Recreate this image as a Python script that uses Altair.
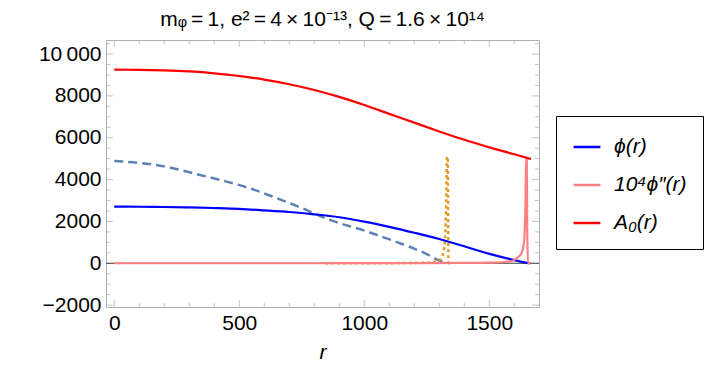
import altair as alt
import pandas as pd

# ---- data ----
phi_r = [0, 100, 200, 300, 400, 500, 600, 700, 800, 900, 1000, 1100, 1200, 1300, 1400, 1500, 1543, 1600, 1630, 1650, 1665]
phi_v = [2705, 2700, 2690, 2670, 2640, 2600, 2530, 2450, 2340, 2200, 1990, 1740, 1460, 1160, 810, 450, 315, 150, 70, 20, 0]

dphi_r = [0, 500, 1000, 1400, 1500, 1560, 1590, 1609, 1629, 1638, 1642, 1645, 1647, 1650, 1652, 1655, 1665]
dphi_v = [0, 0, 5, 15, 30, 60, 110, 240, 480, 900, 1600, 3000, 4983, 4983, 1500, 0, 0]

a0_r = [0, 100, 200, 300, 400, 500, 600, 700, 800, 900, 1000, 1100, 1200, 1300, 1400, 1500, 1600, 1667]
a0_v = [9250, 9245, 9220, 9166, 9079, 8951, 8778, 8556, 8281, 7950, 7560, 7140, 6720, 6300, 5900, 5540, 5210, 4983]

dash_r = [0, 75, 200, 343, 450, 543, 650, 743, 863, 1000, 1143, 1200, 1250, 1290, 1315, 1330]
dash_v = [4888, 4825, 4630, 4220, 3900, 3580, 3110, 2675, 2070, 1560, 955, 700, 440, 190, 60, 0]

dot_r = [843, 1100, 1250, 1290, 1305, 1315, 1322, 1327, 1331, 1334, 1337, 1346]
dot_v = [0, 5, 30, 90, 200, 450, 1000, 2500, 5080, 5080, 0, 0]

names = ["ϕ(r)", "10⁴ϕ″(r)", "A₀(r)"]
colors = ["#0000ff", "#ff8080", "#ff0000"]

x_major = [0, 500, 1000, 1500]
x_minor = [100, 200, 300, 400, 600, 700, 800, 900, 1100, 1200, 1300, 1400, 1600]
y_major = [-2000, 0, 2000, 4000, 6000, 8000, 10000]
y_minor = [-1500, -1000, -500, 500, 1000, 1500, 2500, 3000, 3500, 4500, 5000, 5500,
           6500, 7000, 7500, 8500, 9000, 9500, 10500]

title_text = "mᵩ\u2009=\u20091, e²\u2009=\u20094\u2009×\u200910⁻¹³, Q\u2009=\u20091.6\u2009×\u200910¹⁴"

XDOM = [-33, 1699]
YDOM = [-2090, 10670]
W, H = 433, 267
FONT = "Liberation Sans"

main = pd.concat([
    pd.DataFrame({"r": phi_r, "v": phi_v, "s": names[0], "o": 0}),
    pd.DataFrame({"r": dphi_r, "v": dphi_v, "s": names[1], "o": 1}),
    pd.DataFrame({"r": a0_r, "v": a0_v, "s": names[2], "o": 2}),
])
dash = pd.DataFrame({"r": dash_r, "v": dash_v})
dot = pd.DataFrame({"r": dot_r, "v": dot_v})

xs = alt.Scale(domain=XDOM, nice=False, zero=False)
ys = alt.Scale(domain=YDOM, nice=False, zero=False)

base_x = alt.X("r:Q", scale=xs, axis=alt.Axis(values=x_major, format="d", tickSize=0, labelFontSize=21,
                                              labelPadding=5, title="r", titleFontSize=21,
                                              titleFontStyle="italic", titleFontWeight="normal",
                                              titlePadding=8, domain=False, grid=False,
                                              labelFont=FONT, titleFont=FONT, labelColor="black"))
base_y = alt.Y("v:Q", scale=ys, axis=alt.Axis(values=y_major, format="d", tickSize=0, labelFontSize=21,
                                              labelPadding=5, title=None, domain=False, grid=False,
                                              labelFont=FONT, labelColor="black",
                                              labelExpr="datum.value == 10000 ? '10\u2009000' : datum.label"))

zero = alt.Chart(pd.DataFrame({"v": [0]})).mark_rule(color="#444444", strokeWidth=1).encode(
    y=alt.Y("v:Q", scale=ys), x=alt.value(0), x2=alt.value(W))

dashed = alt.Chart(dash).mark_line(color="#5e81b5", strokeWidth=2.5, strokeDash=[9, 5],
                                   interpolate="monotone", clip=True).encode(
    x=alt.X("r:Q", scale=xs), y=alt.Y("v:Q", scale=ys))
dotted = alt.Chart(dot).mark_line(color="#e19c24", strokeWidth=2.5, strokeDash=[3, 3],
                                  interpolate="monotone", clip=True).encode(
    x=alt.X("r:Q", scale=xs), y=alt.Y("v:Q", scale=ys))

lines = alt.Chart(main).mark_line(strokeWidth=2.2, interpolate="monotone", clip=True).encode(
    x=base_x, y=base_y,
    color=alt.Color("s:N", scale=alt.Scale(domain=names, range=colors),
                    legend=alt.Legend(title=None, orient="none", legendX=450, legendY=76,
                                      symbolType="stroke", symbolStrokeWidth=2.5, symbolSize=720,
                                      labelFontSize=21, labelFont=FONT, labelColor="black",
                                      labelFontStyle="italic",
                                      rowPadding=13, padding=16, labelOffset=12,
                                      strokeColor="black")),
    order="o:Q")

# inward frame ticks
tick_layers = []
for vals, ln in [(x_major, 7), (x_minor, 4)]:
    d = pd.DataFrame({"t": vals})
    for yy in [H - ln / 2, ln / 2]:
        tick_layers.append(alt.Chart(d).mark_tick(color="#aaaaaa", thickness=1, size=ln,
                                                  orient="vertical").encode(
            x=alt.X("t:Q", scale=xs), y=alt.value(yy)))
for vals, ln in [(y_major, 7), (y_minor, 4)]:
    d = pd.DataFrame({"t": vals})
    for xx in [ln / 2, W - ln / 2]:
        tick_layers.append(alt.Chart(d).mark_tick(color="#aaaaaa", thickness=1, size=ln,
                                                  orient="horizontal").encode(
            y=alt.Y("t:Q", scale=ys), x=alt.value(xx)))

chart = alt.layer(*tick_layers, zero, dashed, dotted, lines).properties(
    width=W, height=H,
    title=alt.Title(text=title_text, fontSize=21, font=FONT,
                    fontWeight="normal", anchor="middle", offset=10, color="black"),
    autosize=alt.AutoSizeParams(type="none"),
    padding={"left": 106, "top": 40, "right": 180, "bottom": 66},
).configure_view(stroke="#b0b0b0", strokeWidth=1)

chart.save("out.html", embed_options={"renderer": "svg", "actions": False})
